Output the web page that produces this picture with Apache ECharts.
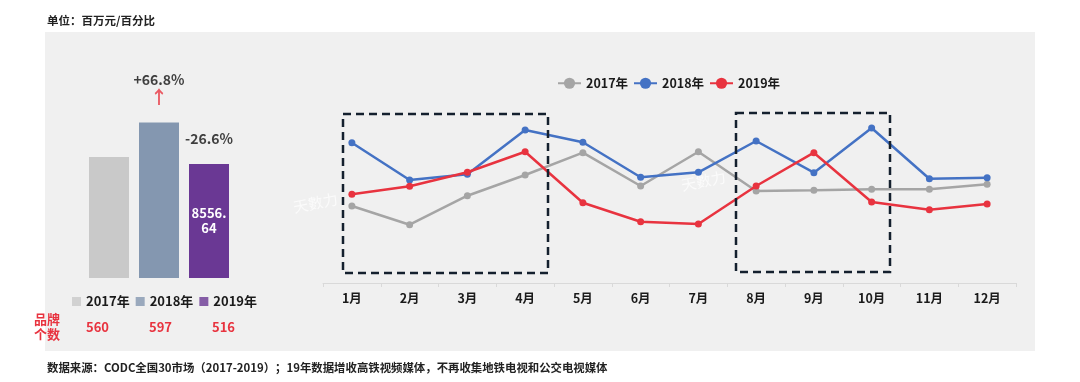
<!DOCTYPE html>
<html><head><meta charset="utf-8">
<script src="https://cdn.jsdelivr.net/npm/echarts@6/dist/echarts.min.js"></script>
<style>html,body{margin:0;padding:0;background:#fff}#c{width:1080px;height:382px}</style>
</head><body><div id="c"></div>
<script>
const months = ['1月','2月','3月','4月','5月','6月','7月','8月','9月','10月','11月','12月'];
const s2017 = [77, 58.3, 87.3, 108, 130.3, 97, 131.3, 92, 92.7, 93.7, 93.7, 98.7];
const s2018 = [140.3, 103, 108.7, 153, 140.7, 105.7, 110.7, 142, 110.3, 155, 104.3, 105.3];
const s2019 = [88.7, 96.7, 110.7, 131.3, 80.3, 61.3, 59, 97, 130.3, 81, 73.3, 79];
const lineNames = ['2017年','2018年','2019年'];
const barYears = ['2017年','2018年','2019年'];
const barValues = [9080, 11657, 8556.64];
const changes = ['', '+66.8%', '-26.6%'];
const brandCounts = [560, 597, 516];

const FONT = 'Noto Sans CJK SC';
const barColors = ['#C9C9C9','#8497B0','#6A3894'];
const lineColors = ['#A5A5A5','#4472C4','#E8333F'];
const RED = '#E8333F';

const chart = echarts.init(document.getElementById('c'), null, {renderer:'canvas'});

const lineSeries = [s2017, s2018, s2019].map((d, i) => ({
  type: 'line', name: lineNames[i], xAxisIndex: 1, yAxisIndex: 1,
  data: d, symbol: 'circle', symbolSize: 7, z: 3 + i,
  lineStyle: {width: 2.5, color: lineColors[i]},
  itemStyle: {color: lineColors[i]}
}));

const barLegendSeries = barYears.map((n, i) => ({
  type: 'scatter', name: n + ' ', xAxisIndex: 0, yAxisIndex: 0, data: [],
  itemStyle: {color: barColors[i]}
}));

const option = {
  backgroundColor: '#ffffff',
  animation: false,
  textStyle: {fontFamily: FONT},
  grid: [
    {left: 84, width: 150, top: 38, bottom: 104},
    {left: 323, right: 64, top: 33, bottom: 99}
  ],
  xAxis: [
    {type: 'category', gridIndex: 0, data: barYears, show: false},
    {type: 'category', gridIndex: 1, data: months, boundaryGap: true,
     axisLine: {lineStyle: {color: '#D9D9D9', width: 1}},
     axisTick: {show: true, length: 4, lineStyle: {color: '#D9D9D9'}},
     axisLabel: {color: '#1a1a1a', fontSize: 12.5, fontWeight: 'bold', fontFamily: FONT, margin: 9}}
  ],
  yAxis: [
    {type: 'value', gridIndex: 0, min: 0, max: 18000, show: false},
    {type: 'value', gridIndex: 1, min: 0, max: 250, show: false}
  ],
  legend: [
    {data: barYears.map(n => n + ' '), formatter: n => n.trim(), left: 72, top: 295, padding: 0,
     icon: 'rect', itemWidth: 9, itemHeight: 9, itemGap: 6,
     textStyle: {fontSize: 13, fontWeight: 'bold', color: '#1a1a1a', fontFamily: FONT}},
    {data: lineNames, left: 557, top: 77, padding: 0, itemWidth: 23, itemHeight: 14, itemGap: 5,
     textStyle: {fontSize: 12.5, fontWeight: 'bold', color: '#1a1a1a', fontFamily: FONT}}
  ],
  series: [
    {
      type: 'bar', name: 'bars', xAxisIndex: 0, yAxisIndex: 0, barWidth: 40,
      data: barValues.map((v, i) => {
        const item = {value: v, itemStyle: {color: barColors[i]}};
        if (i === 2) {
          item.label = {show: true, position: 'inside', color: '#fff', fontSize: 13, fontWeight: 'bold',
            lineHeight: 15, fontFamily: FONT,
            formatter: p => { const s = p.value.toFixed(2).split('.'); return s[0] + '.\n' + s[1]; }};
        }
        return item;
      })
    },
    {
      type: 'scatter', name: 'changes', xAxisIndex: 0, yAxisIndex: 0, symbolSize: 0, silent: true,
      data: barValues.map((v, i) => {
        if (!changes[i]) return '-';
        const up = changes[i][0] === '+';
        return {value: v, label: {
          show: true, position: 'top', distance: 16,
          formatter: up ? '{v|' + changes[i] + '}\n{a|↑}' : '{v|' + changes[i] + '}',
          rich: {
            v: {fontSize: 14, fontWeight: 'bold', color: '#111', lineHeight: 18, fontFamily: FONT},
            a: {fontSize: 18, fontWeight: 'bold', color: RED, lineHeight: 18, fontFamily: FONT}
          }
        }};
      })
    },
    ...barLegendSeries,
    ...lineSeries
  ],
  graphic: [
    {type: 'rect', z: -10, silent: true, shape: {x: 45, y: 32, width: 990, height: 319}, style: {fill: '#F0F0F0'}},
    {type: 'text', style: {x: 47, y: 21, text: '单位：百万元/百分比', fill: '#222', font: 'bold 11.5px "' + FONT + '"', textVerticalAlign: 'middle'}},
    {type: 'text', style: {x: 47, y: 368, text: '数据来源：CODC全国30市场（2017-2019）；19年数据增收高铁视频媒体，不再收集地铁电视和公交电视媒体', fill: '#222', font: 'bold 11.4px "' + FONT + '"', textVerticalAlign: 'middle'}},
    {type: 'text', style: {x: 34, y: 327, text: '品牌\n个数', fill: RED, font: 'bold 13px "' + FONT + '"', lineHeight: 15, textVerticalAlign: 'middle'}},
    ...brandCounts.map((c, i) => ({type: 'text', style: {x: 86 + i * 63, y: 327, text: String(c), fill: RED, font: 'bold 13px "' + FONT + '"', textVerticalAlign: 'middle'}})),
    {type: 'rect', z: 10, silent: true, shape: {x: 343, y: 114, width: 205, height: 159}, style: {fill: 'none', stroke: '#14202E', lineWidth: 2.5, lineDash: [8, 5]}},
    {type: 'rect', z: 10, silent: true, shape: {x: 736, y: 113, width: 154, height: 159}, style: {fill: 'none', stroke: '#14202E', lineWidth: 2.5, lineDash: [8, 5]}},
    {type: 'text', z: 1, silent: true, rotation: 0.2, x: 292, y: 200, style: {text: '天數力', fill: 'rgba(255,255,255,0.7)', font: '15px "' + FONT + '"'}},
    {type: 'text', z: 1, silent: true, rotation: 0.2, x: 680, y: 178, style: {text: '天數力', fill: 'rgba(255,255,255,0.7)', font: '15px "' + FONT + '"'}}
  ]
};
chart.setOption(option);
</script>
</body></html>
